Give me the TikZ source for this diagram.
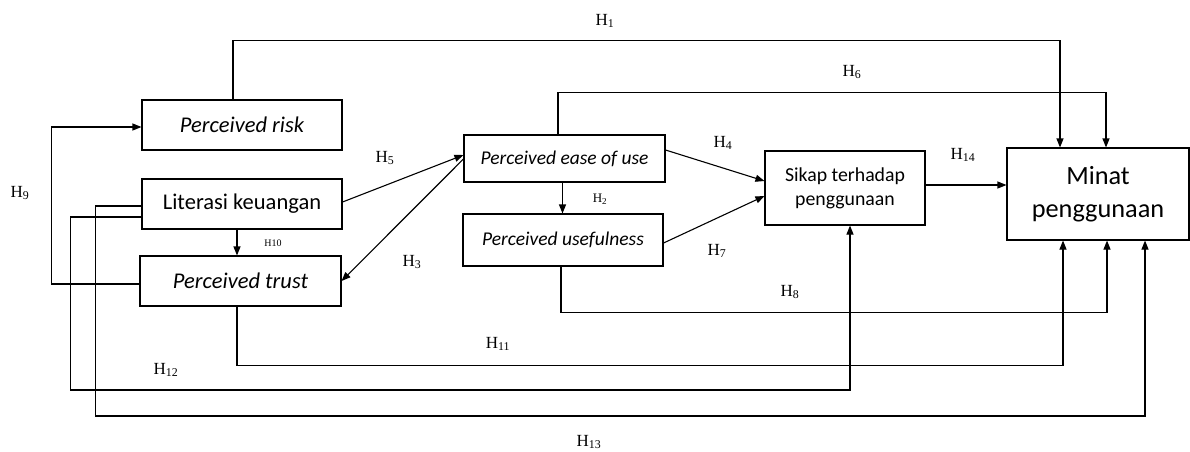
\documentclass[tikz,border=0pt]{standalone}
\usepackage{fontspec}
\setmainfont{Liberation Serif}
\newfontfamily\boxfont{Carlito}
\usetikzlibrary{arrows.meta}
\begin{document}
\begin{tikzpicture}[x=1pt,y=-1pt,
  box/.style={draw, line width=1.1pt, inner sep=0pt, align=center},
  ln/.style={line width=1.1pt},
  arr/.style={line width=1.1pt, -{Triangle[length=9pt,width=7pt]}},
  lbl/.style={inner sep=0pt, font=\fontsize{17}{17}\selectfont},
  slbl/.style={inner sep=0pt, font=\fontsize{11}{11}\selectfont},
  bigf/.style={font=\boxfont\itshape\fontsize{22.5}{27}\selectfont},
  bigu/.style={font=\boxfont\fontsize{22.5}{27}\selectfont},
  midf/.style={font=\boxfont\itshape\fontsize{19.5}{24}\selectfont}]
\useasboundingbox (0,0) rectangle (1190,451);

% boxes
\node[box, bigf, minimum width=200pt, minimum height=50pt] (risk) at (242,125) {Perceived risk};
\node[box, bigu, minimum width=200pt, minimum height=50pt] (lit) at (242,204) {Literasi keuangan};
\node[box, bigf, minimum width=201pt, minimum height=50pt] (trust) at (240.5,281) {Perceived trust};
\node[box, midf, minimum width=201pt, minimum height=47pt] (ease) at (564.5,158.5) {Perceived ease of use};
\node[box, midf, minimum width=200pt, minimum height=52pt] (useful) at (563,240) {Perceived usefulness};
\node[box, font=\boxfont\fontsize{19.8}{24}\selectfont, minimum width=160pt, minimum height=74pt] (sikap) at (845,188) {Sikap terhadap\\penggunaan};
\node[box, font=\boxfont\fontsize{26.3}{33}\selectfont, minimum width=182pt, minimum height=92pt] (minat) at (1098,194) {Minat\\penggunaan};

% helper coordinates
\coordinate (e2) at ([xshift=-2pt]ease.south);
\coordinate (l10) at ([xshift=-5pt]lit.south);

% connectors
\draw[arr] ([xshift=-9pt]risk.north) -- ++(0,-59) -| ([xshift=-38pt]minat.north);
\draw[arr] ([xshift=-6.5pt]ease.north) -- ++(0,-42) -| ([xshift=8pt]minat.north);
\draw[arr] ([yshift=3pt]sikap.east) -- ([yshift=9pt]minat.west);
\draw[arr] ([yshift=8.5pt]ease.east) -- ([yshift=7pt]sikap.west);
\draw[arr] ([yshift=-3pt]useful.east) -- ([yshift=-8pt]sikap.west);
\draw[arr] (e2) -- (e2 |- useful.north);
\draw[arr] ([yshift=2pt]lit.east) -- ([yshift=3.5pt]ease.west);
\draw[arr] ([yshift=-0.5pt]ease.west) -- (trust.east);
\draw[arr] (l10) -- (l10 |- trust.north);
\draw[arr] ([yshift=-3pt]trust.west) -- ++(-88,0) |- ([yshift=-2pt]risk.west);
\draw[arr] ([yshift=-13pt]lit.west) -- ++(-71,0) -- ++(0,173) -| ([xshift=5pt]sikap.south);
\draw[arr] ([yshift=-2pt]lit.west) -- ++(-46,0) -- ++(0,210) -| ([xshift=47pt]minat.south);
\draw[arr] ([xshift=-3.5pt]trust.south) -- ++(0,59) -| ([xshift=-35pt]minat.south);
\draw[arr] ([xshift=-2pt]useful.south) -- ++(0,46) -| ([xshift=9pt]minat.south);

% labels
\node[lbl] (h1) at (605,21) {H\textsubscript{1}};
\node[slbl, font=\fontsize{13}{13}\selectfont] (h2) at (600,199) {H\textsubscript{2}};
\node[lbl] (h3) at (412,262) {H\textsubscript{3}};
\node[lbl] (h4) at (723,143) {H\textsubscript{4}};
\node[lbl] (h5) at (385,158) {H\textsubscript{5}};
\node[lbl] (h6) at (852,72) {H\textsubscript{6}};
\node[lbl] (h7) at (717,251) {H\textsubscript{7}};
\node[lbl] (h8) at (790,292) {H\textsubscript{8}};
\node[lbl] (h9) at (20,193) {H\textsubscript{9}};
\node[slbl, font=\fontsize{10}{10}\selectfont] (h10) at (273,243) {H10};
\node[lbl] (h11) at (498,344) {H\textsubscript{11}};
\node[lbl] (h12) at (166,370) {H\textsubscript{12}};
\node[lbl] (h13) at (589,442) {H\textsubscript{13}};
\node[lbl] (h14) at (963,155) {H\textsubscript{14}};
\end{tikzpicture}
\end{document}
